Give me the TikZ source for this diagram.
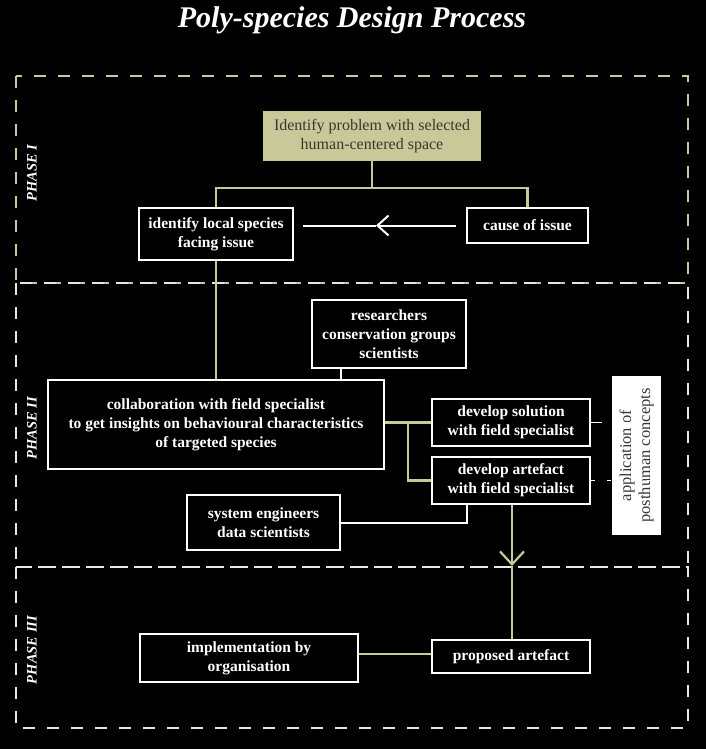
\documentclass[tikz,border=0pt]{standalone}
\usepackage{fontspec}
\setmainfont{Liberation Serif}
\usepackage{tikz}
\usetikzlibrary{positioning, arrows.meta, calc}

\definecolor{khaki}{RGB}{201,200,152}
\definecolor{darktext}{RGB}{55,55,50}
\definecolor{framewhite}{RGB}{232,232,224}

\begin{document}
\begin{tikzpicture}[x=1pt, y=-1pt,
    stepbox/.style={draw=white, line width=2.4pt, fill=black, text=white, align=center,
                    font=\fontsize{15.5}{19}\selectfont\bfseries, inner sep=2pt},
    probbox/.style={fill=khaki, text=darktext, align=center,
                    font=\fontsize{16}{19}\selectfont, inner sep=2pt},
    notebox/.style={fill=white, text=darktext, align=center, rotate=90,
                    font=\fontsize{16.5}{19}\selectfont, inner sep=2pt},
    phaselabel/.style={text=white, rotate=90, font=\fontsize{14.5}{16}\selectfont\bfseries\itshape},
    kline/.style={draw=khaki, line width=2.2pt},
    wline/.style={draw=white, line width=2pt},
    phaseframe/.style={line width=2.2pt, dash pattern=on 12pt off 12pt}
]
    \fill[black] (0,0) rectangle (706,749);
    \useasboundingbox (0,0) rectangle (706,749);

    % ========== title ==========
    \node[text=white, anchor=base, font=\fontsize{30}{36}\selectfont\bfseries\itshape]
        (title) at (352,28) {Poly-species Design Process};

    % ========== phase frames ==========
    \draw[phaseframe, draw=khaki]      (16,76)  rectangle (688,283);
    \draw[phaseframe, draw=framewhite] (16,283) rectangle (688,567);
    \draw[phaseframe, draw=framewhite] (16,567) rectangle (688,728);

    \node[phaselabel] (ph_one)   at (32,173) {PHASE I};
    \node[phaselabel] (ph_two)   at (32,428) {PHASE II};
    \node[phaselabel] (ph_three) at (32,650) {PHASE III};

    % ========== Phase I ==========
    \node[probbox, minimum width=218pt, minimum height=50pt] (prob) at (372,136)
        {Identify problem with selected\\human-centered space};
    \node[stepbox, minimum width=153.6pt, minimum height=51.6pt] (ident) at (216,234)
        {identify local species\\facing issue};
    \node[stepbox, minimum width=120.6pt, minimum height=34.6pt] (cause) at (527.5,225.5)
        {cause of issue};

    % ========== Phase II ==========
    \node[stepbox, minimum width=153.6pt, minimum height=67.6pt] (research) at (389,334)
        {researchers\\conservation groups\\scientists};
    \node[stepbox, minimum width=335.6pt, minimum height=88.6pt] (collab) at (216,424.5)
        {collaboration with field specialist\\to get insights on behavioural characteristics\\of targeted species};
    \node[stepbox, minimum width=157.6pt, minimum height=46.6pt] (devsol) at (511,422.5)
        {develop solution\\with field specialist};
    \node[stepbox, minimum width=157.6pt, minimum height=46.6pt] (devart) at (511,480.5)
        {develop artefact\\with field specialist};
    \node[notebox, minimum width=159pt, minimum height=49pt] (posthuman) at (636.5,455.5)
        {application of\\posthuman concepts};
    \node[stepbox, minimum width=152.6pt, minimum height=54.6pt] (syseng) at (263.5,522.5)
        {system engineers\\data scientists};

    % ========== Phase III ==========
    \node[stepbox, minimum width=217.6pt, minimum height=47.6pt] (implement) at (249,658)
        {implementation by\\organisation};
    \node[stepbox, minimum width=157.6pt, minimum height=32.6pt] (proposed) at (511,656.5)
        {proposed artefact};

    % --- connectors ---
    \coordinate (split) at (372,188);
    \draw[kline] (prob.south) -- (split);
    \draw[kline] (ident.north) |- (split) -| (cause.north);

    \coordinate (causemid) at (376,225.5);
    \draw[wline, -{Straight Barb[length=11pt, width=20pt, line width=2pt]}]
        ([xshift=-10pt]cause.west) -- (causemid);
    \draw[wline] (causemid) -- ([xshift=9pt]ident.east |- causemid);

    \draw[kline] (ident.south) -- (ident.south |- collab.north);
    \draw[wline] ([xshift=-48pt]research.south) -- ([xshift=-48pt]research.south |- collab.north);

    \draw[kline] (collab.east |- devsol.west) -- (devsol.west);
    \draw[kline] ([xshift=23pt]collab.east |- devsol.west) |- (devart.west);

    \draw[draw=white, line width=1pt, dash pattern=on 11pt off 20pt]
        (devsol.east) -- (devsol.east -| posthuman.south);
    \draw[draw=white, line width=1pt, dash pattern=on 4pt off 12pt on 4pt off 20pt]
        (devart.east) -- (devart.east -| posthuman.south);

    \draw[wline] (syseng.east) -| ([xshift=-44pt]devart.south);

    \coordinate (artmid) at (512,566);
    \draw[kline, -{Straight Barb[length=13pt, width=24pt, line width=2.2pt]}]
        ([xshift=1pt]devart.south) -- (artmid);
    \draw[kline] (artmid) -- ([xshift=1pt]proposed.north);

    \draw[kline] ([yshift=2.5pt]proposed.west) -- ([yshift=2.5pt]proposed.west -| implement.east);
\end{tikzpicture}
\end{document}
